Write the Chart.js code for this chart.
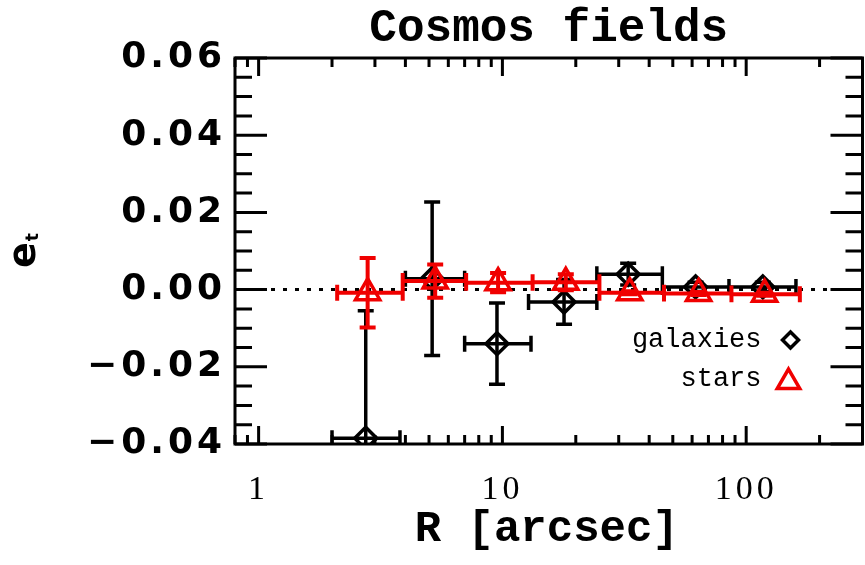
<!DOCTYPE html>
<html>
<head>
<meta charset="utf-8">
<title>Cosmos fields</title>
<script src="https://cdn.jsdelivr.net/npm/chart.js@4.4.1/dist/chart.umd.min.js"></script>
<style>
  html, body { margin: 0; padding: 0; background: #fff; overflow: hidden; }
  #wrap { width: 865px; height: 565px; overflow: hidden; }
  canvas { display: block; }
</style>
</head>
<body>
<div id="wrap"><canvas id="chart" width="880" height="565"></canvas></div>
<script>
// Axis ranges and labelled ticks
const xMin = 0.8, xMax = 300;
const yMin = -0.04, yMax = 0.06;
const xTickLabels = [1, 10, 100];
const yTickValues = [-0.04, -0.02, 0.00, 0.02, 0.04, 0.06];
const zeroLevel = 0;

// Galaxies: bin centre, bin edges, mean e_t and its 1-sigma error
const galaxyR     = [2.75, 5.15, 9.5, 17.9, 32.8, 62, 117];
const galaxyRLow  = [2.0, 4.0, 7.0, 12.8, 24.4, 45.3, 85];
const galaxyRHigh = [3.8, 7.0, 13.1, 24.4, 45.3, 85, 160];
const galaxyEt    = [-0.0385, 0.0028, -0.014, -0.0032, 0.004, 0.0007, 0.0007];
const galaxyErr   = [0.033, 0.0199, 0.0105, 0.0058, 0.0028, 0.0012, 0.0012];

// Stars: same binning
const starR     = [2.8, 5.3, 9.6, 18.2, 33.3, 63.8, 119];
const starRLow  = [2.1, 3.9, 7.1, 13.3, 25, 46, 87];
const starRHigh = [3.9, 7.1, 13.3, 25, 46, 87, 166];
const starEt    = [-0.0008, 0.0022, 0.0018, 0.0019, -0.0008, -0.001, -0.0012];
const starErr   = [0.009, 0.0043, 0.0025, 0.0021, 0.0004, 0.0004, 0.0004];

const RED = '#f00000';

const toPoints = (r, lo, hi, et, err) =>
    r.map((v, i) => ({ x: v, y: et[i], xLo: lo[i], xHi: hi[i], yErr: err[i] }));

// Diamond / triangle path, same geometry as the Chart.js point styles
const markerPath = (ctx, style, x, y, r) => {
    ctx.beginPath();
    if (style === 'rectRot') {
        ctx.moveTo(x - r, y); ctx.lineTo(x, y - r);
        ctx.lineTo(x + r, y); ctx.lineTo(x, y + r);
    } else {
        for (let k = 0; k < 3; k++) {
            const a = k * 2 * Math.PI / 3;
            const px = x + Math.sin(a) * r, py = y - Math.cos(a) * r;
            k ? ctx.lineTo(px, py) : ctx.moveTo(px, py);
        }
    }
    ctx.closePath();
};

// Wide, spaced-out tick lettering for the axis labels
const tickSpacing = {
    id: 'tickSpacing',
    beforeDraw(chart) { chart.ctx.letterSpacing = '4px'; },
    beforeDatasetsDraw(chart) { chart.ctx.letterSpacing = '0px'; }
};

// Error bars in x (bin width) and y, drawn just under each dataset's markers
const errorBars = {
    id: 'errorBars',
    beforeDatasetDraw(chart, args) {
        const ds = chart.data.datasets[args.index];
        if (!ds.errorColor) return;
        const { ctx, chartArea: a, scales: { x, y } } = chart;
        const c = ds.capSize;
        ctx.save();
        ctx.beginPath();
        ctx.rect(a.left, a.top, a.right - a.left, a.bottom - a.top);
        ctx.clip();
        ctx.strokeStyle = ds.errorColor;
        ctx.lineWidth = ds.errorWidth;
        ctx.beginPath();
        ds.data.forEach(p => {
            const px = x.getPixelForValue(p.x), py = y.getPixelForValue(p.y);
            const x0 = x.getPixelForValue(p.xLo), x1 = x.getPixelForValue(p.xHi);
            const y0 = y.getPixelForValue(p.y - p.yErr), y1 = y.getPixelForValue(p.y + p.yErr);
            ctx.moveTo(x0, py); ctx.lineTo(x1, py);
            ctx.moveTo(x0, py - c); ctx.lineTo(x0, py + c);
            ctx.moveTo(x1, py - c); ctx.lineTo(x1, py + c);
            ctx.moveTo(px, y0); ctx.lineTo(px, y1);
            ctx.moveTo(px - c, y0); ctx.lineTo(px + c, y0);
            ctx.moveTo(px - c, y1); ctx.lineTo(px + c, y1);
        });
        ctx.stroke();
        ctx.restore();
    }
};

// Boxed frame with inward ticks, titles, y label and the legend
const frameAndDecor = {
    id: 'frameAndDecor',
    afterDraw(chart) {
        const { ctx, chartArea: a, scales: { x, y } } = chart;
        ctx.save();
        ctx.letterSpacing = '0px';
        ctx.strokeStyle = '#000';
        ctx.lineWidth = 3;
        ctx.strokeRect(a.left, a.top, a.right - a.left, a.bottom - a.top);

        ctx.beginPath();
        for (let d = 0.1; d <= 1000; d *= 10) {
            for (let k = 1; k <= 9; k++) {
                const v = +(k * d).toPrecision(3);
                if (v < xMin || v > xMax) continue;
                const px = x.getPixelForValue(v);
                const len = k === 1 ? 18 : 9;
                ctx.moveTo(px, a.bottom); ctx.lineTo(px, a.bottom - len);
                ctx.moveTo(px, a.top); ctx.lineTo(px, a.top + len);
            }
        }
        for (let i = 0; i <= 20; i++) {
            const py = y.getPixelForValue(yMin + i * 0.005);
            const len = i % 4 === 0 ? 32 : 17;
            ctx.moveTo(a.left, py); ctx.lineTo(a.left + len, py);
            ctx.moveTo(a.right, py); ctx.lineTo(a.right - len, py);
        }
        ctx.stroke();

        const midX = (a.left + a.right) / 2;
        ctx.fillStyle = '#000';
        ctx.textAlign = 'center';
        ctx.textBaseline = 'middle';

        // title
        ctx.font = 'bold 46px "Liberation Mono"';
        ctx.fillText('Cosmos fields', midX, 29);

        // x axis title
        ctx.font = 'bold 44px "Liberation Mono"';
        ctx.fillText('R [arcsec]', midX - 2, 530);

        // y label: e with subscript t, rotated
        ctx.save();
        ctx.translate(35, 268);
        ctx.rotate(-Math.PI / 2);
        ctx.textAlign = 'left';
        ctx.textBaseline = 'alphabetic';
        ctx.font = 'bold 38px "DejaVu Sans"';
        ctx.fillText('e', 0, 0);
        const ew = ctx.measureText('e').width;
        ctx.font = 'bold 17px "DejaVu Sans"';
        ctx.fillText('t', ew + 1, 3);
        ctx.restore();

        // legend, text on the left of the symbol
        const lx = a.right - 101;
        const mx = a.right - 72;
        ctx.font = '27px "Liberation Mono"';
        ctx.textAlign = 'right';
        ctx.fillText('galaxies', lx, 340);
        ctx.fillText('stars', lx, 379);
        ctx.lineWidth = 3.5;
        ctx.strokeStyle = '#000';
        markerPath(ctx, 'rectRot', mx, 340, 8);
        ctx.stroke();
        ctx.strokeStyle = RED;
        ctx.lineWidth = 3.5;
        markerPath(ctx, 'triangle', mx - 2, 382, 13);
        ctx.stroke();
        ctx.restore();
    }
};

new Chart(document.getElementById('chart'), {
    type: 'scatter',
    data: {
        datasets: [
            {
                label: 'stars',
                data: toPoints(starR, starRLow, starRHigh, starEt, starErr),
                pointStyle: 'triangle',
                pointRadius: 14,
                borderWidth: 3.5,
                borderColor: RED,
                backgroundColor: 'rgba(0,0,0,0)',
                errorColor: RED,
                errorWidth: 4,
                capSize: 8
            },
            {
                label: 'galaxies',
                data: toPoints(galaxyR, galaxyRLow, galaxyRHigh, galaxyEt, galaxyErr),
                pointStyle: 'rectRot',
                pointRadius: 11,
                borderWidth: 3.5,
                borderColor: '#000',
                backgroundColor: 'rgba(0,0,0,0)',
                errorColor: '#000',
                errorWidth: 3.5,
                capSize: 8
            },
            {
                label: 'zero',
                data: [{ x: xMin, y: zeroLevel }, { x: xMax, y: zeroLevel }],
                showLine: true,
                pointRadius: 0,
                borderColor: '#000',
                borderWidth: 3,
                borderDash: [4, 8]
            }
        ]
    },
    options: {
        responsive: false,
        animation: false,
        events: [],
        layout: { padding: { top: 58, right: 9, left: 0, bottom: 0 } },
        plugins: {
            legend: { display: false },
            title: { display: false },
            tooltip: { enabled: false }
        },
        scales: {
            x: {
                type: 'logarithmic',
                min: xMin,
                max: xMax,
                afterBuildTicks: scale => { scale.ticks = xTickLabels.map(v => ({ value: v })); },
                afterFit: scale => { scale.height = 121; },
                grid: { display: false, drawTicks: false },
                border: { display: false },
                ticks: {
                    autoSkip: false,
                    maxRotation: 0,
                    padding: 26,
                    color: '#000',
                    font: { family: '"Liberation Serif"', size: 34 },
                    callback: v => String(v)
                }
            },
            y: {
                min: yMin,
                max: yMax,
                afterBuildTicks: scale => { scale.ticks = yTickValues.map(v => ({ value: v })); },
                afterFit: scale => { scale.width = 235; },
                grid: { display: false, drawTicks: false },
                border: { display: false },
                ticks: {
                    autoSkip: false,
                    padding: 9,
                    color: '#000',
                    font: { family: '"DejaVu Sans"', size: 36, weight: 'bold' },
                    callback: v => (v < 0 ? '\u2212' : '') + Math.abs(v).toFixed(2)
                }
            }
        }
    },
    plugins: [tickSpacing, errorBars, frameAndDecor]
});
</script>
</body>
</html>
